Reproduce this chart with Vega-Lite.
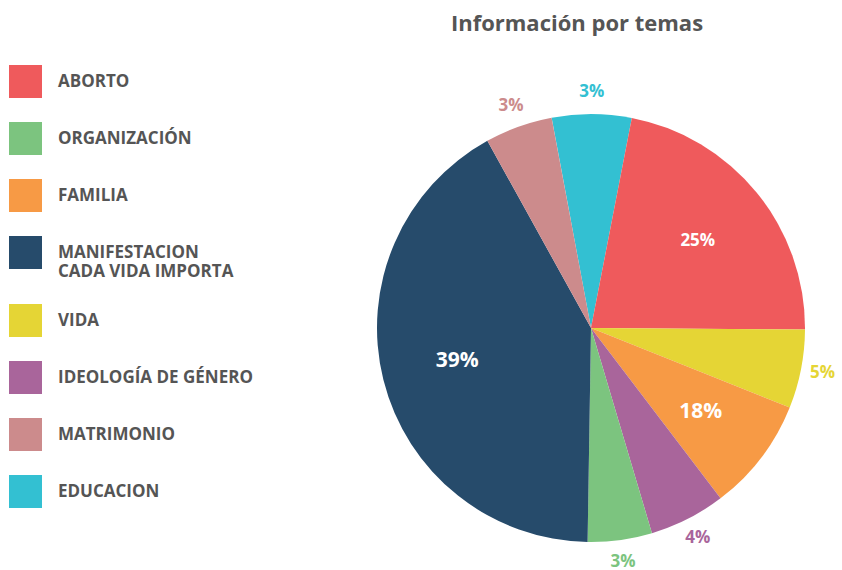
{
  "$schema": "https://vega.github.io/schema/vega-lite/v6.json",
  "width": 428,
  "height": 428,
  "autosize": "none",
  "padding": {"left": 377, "top": 114, "right": 37, "bottom": 28},
  "background": "white",
  "title": {
    "text": "Información por temas",
    "font": "Open Sans",
    "fontSize": 22,
    "fontWeight": "bold",
    "color": "#555555",
    "anchor": "middle",
    "dx": -14,
    "offset": 29
  },
  "config": {"view": {"stroke": null}},
  "data": {
    "values": [
      {"tema": "EDUCACION", "valor": 6.0, "etiqueta": "3%", "orden": 1},
      {"tema": "ABORTO", "valor": 22.05, "etiqueta": "25%", "orden": 2},
      {"tema": "VIDA", "valor": 5.95, "etiqueta": "5%", "orden": 3},
      {"tema": "FAMILIA", "valor": 8.6, "etiqueta": "18%", "orden": 4},
      {"tema": "IDEOLOGÍA DE GÉNERO", "valor": 5.75, "etiqueta": "4%", "orden": 5},
      {"tema": "ORGANIZACIÓN", "valor": 4.85, "etiqueta": "3%", "orden": 6},
      {"tema": "MANIFESTACION CADA VIDA IMPORTA", "valor": 41.7, "etiqueta": "39%", "orden": 7},
      {"tema": "MATRIMONIO", "valor": 5.1, "etiqueta": "3%", "orden": 8}
    ]
  },
  "encoding": {
    "theta": {"field": "valor", "type": "quantitative", "stack": true, "scale": {"range": [-0.185, 6.098]}},
    "order": {"field": "orden", "type": "quantitative"}
  },
  "layer": [
    {
      "mark": {"type": "arc", "radius": 214},
      "encoding": {
        "color": {
          "field": "tema",
          "type": "nominal",
          "scale": {
            "domain": ["ABORTO", "ORGANIZACIÓN", "FAMILIA", "MANIFESTACION CADA VIDA IMPORTA", "VIDA", "IDEOLOGÍA DE GÉNERO", "MATRIMONIO", "EDUCACION"],
            "range": ["#EF5A5C", "#7CC47F", "#F79A45", "#264B6B", "#E5D535", "#A9659B", "#CC8B8C", "#33C0D2"]
          },
          "legend": {
            "title": null,
            "orient": "none",
            "legendX": -368,
            "legendY": -49,
            "padding": 0,
            "symbolType": "square",
            "symbolSize": 1089,
            "symbolStrokeWidth": 0,
            "labelFont": "Open Sans",
            "labelFontSize": 17,
            "labelFontWeight": "bold",
            "labelColor": "#555555",
            "labelOffset": 16,
            "labelLimit": 400,
            "rowPadding": 24,
            "labelExpr": "datum.label == 'MANIFESTACION CADA VIDA IMPORTA' ? ['MANIFESTACION', 'CADA VIDA IMPORTA'] : datum.label"
          }
        }
      }
    },
    {
      "mark": {"type": "text", "radius": 236, "font": "Open Sans", "fontWeight": "bold", "fontSize": 17},
      "encoding": {
        "text": {"condition": {"test": "datum.valor > 8", "value": ""}, "field": "etiqueta"},
        "color": {"field": "tema", "type": "nominal"}
      }
    },
    {
      "mark": {"type": "text", "radius": 138, "font": "Open Sans", "fontWeight": "bold", "color": "white"},
      "encoding": {
        "text": {"condition": {"test": "datum.valor <= 8", "value": ""}, "field": "etiqueta"},
        "size": {"condition": {"test": "datum.tema == 'ABORTO'", "value": 17}, "value": 21}
      }
    }
  ]
}
